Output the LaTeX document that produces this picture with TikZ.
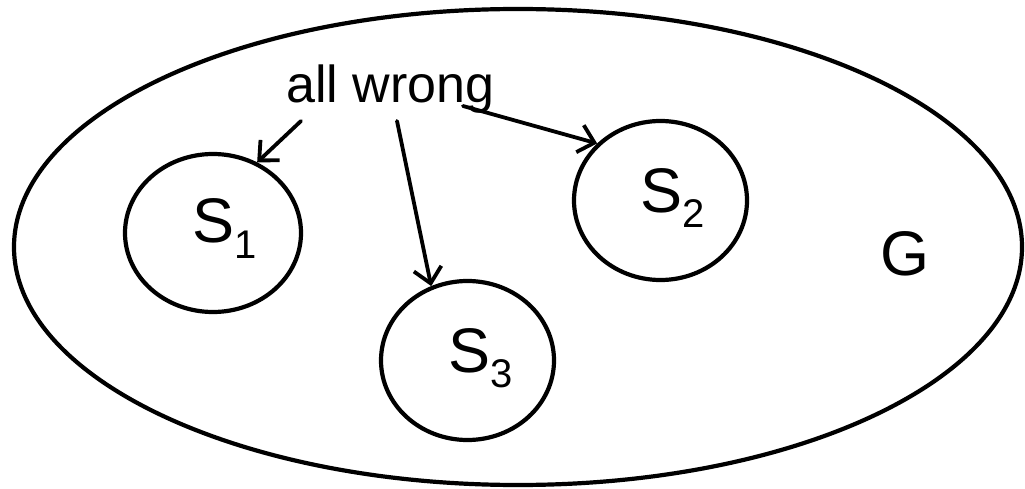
\documentclass[tikz,border=0pt]{standalone}
\usepackage{fontspec}
\setmainfont{Liberation Sans}
\usetikzlibrary{shapes.geometric,arrows.meta}

\tikzset{
  setshape/.style={draw, ellipse, line width=4.2pt, inner sep=0pt},
  ptr/.style={line width=3.8pt, line cap=round, -{Straight Barb[length=15pt,width=28pt,line width=3.8pt]}},
  lbl/.style={anchor=base west, inner sep=0pt, font=\fontsize{63}{63}\selectfont},
}
\newcommand{\setsub}[1]{\raisebox{-15pt}{\fontsize{40}{40}\selectfont #1}}

\begin{document}
\begin{tikzpicture}[x=1pt, y=-1pt]
  \useasboundingbox (0,0) rectangle (1025,489);

  % outer set G and the three subsets
  \node[setshape, minimum width=1008pt, minimum height=476pt] (g) at (518,247) {};
  \node[setshape, minimum width=176pt, minimum height=158pt] (s1) at (213,233) {};
  \node[setshape, minimum width=173pt, minimum height=159pt] (s2) at (660.5,200.5) {};
  \node[setshape, minimum width=173pt, minimum height=159pt] (s3) at (467.5,360.5) {};

  % labels
  \node[lbl] (l1) at (192,243) {S\setsub{1}};
  \node[lbl] (l2) at (640,212) {S\setsub{2}};
  \node[lbl] (l3) at (448,372) {S\setsub{3}};
  \node[lbl] (lg) at (880,275) {G};
  \node[anchor=base west, inner sep=0pt, font=\fontsize{52}{52}\selectfont] (aw) at (286,103) {all wrong};

  % arrow origins under the caption
  \coordinate (a1) at (301,121);
  \coordinate (a2) at (397,121);
  \coordinate (a3) at (463,106);

  \draw[ptr] (a1) -- (s1.58);
  \draw[ptr] (a2) -- (s3.116);
  \draw[ptr] (a3) -- (s2.138);
\end{tikzpicture}
\end{document}
